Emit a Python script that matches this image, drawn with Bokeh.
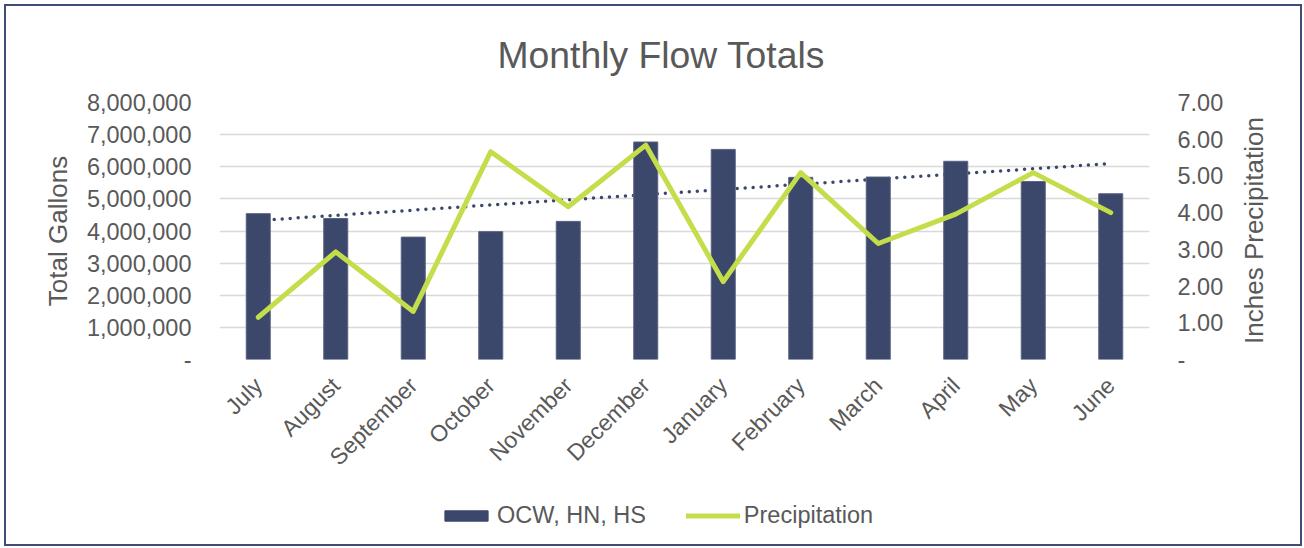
import numpy as np
from math import pi
from bokeh.plotting import figure
from bokeh.layouts import column, row
from bokeh.core.properties import value
from bokeh.models import (ColumnDataSource, FactorRange, Range1d, LinearAxis,
                          FixedTicker, CustomJSTickFormatter, Legend, LegendItem)
from bokeh.embed import file_html
from bokeh.resources import INLINE

# ---- data ----
months = ["July", "August", "September", "October", "November", "December",
          "January", "February", "March", "April", "May", "June"]
flow_gallons = [4540000, 4390000, 3810000, 3980000, 4300000, 6770000,
                6540000, 5670000, 5680000, 6170000, 5540000, 5160000]
precip_inches = [1.15, 2.93, 1.31, 5.66, 4.16, 5.84,
                 2.12, 5.09, 3.16, 3.96, 5.09, 4.00]
left_ticks = [0, 1000000, 2000000, 3000000, 4000000, 5000000, 6000000, 7000000, 8000000]
right_ticks = [0, 1, 2, 3, 4, 5, 6, 7]
series_names = ["OCW, HN, HS", "Precipitation"]
left_title = "Total Gallons"
right_title = "Inches Precipitation"

# linear trendline of flow totals
xi = np.arange(len(months))
slope, intercept = np.polyfit(xi, flow_gallons, 1)
trend = list(intercept + slope * xi)

src = ColumnDataSource(dict(month=months, flow=flow_gallons, precip=precip_inches, trend=trend))

FONT = "Liberation Sans"
GREY = "#595959"
NAVY = "#3B476B"
LIME = "#C4DD4B"
W_MAIN = 1229
W_RIGHT = 65
H_MAIN = 478
H_LEG = 60

p = figure(width=W_MAIN, height=H_MAIN, x_range=FactorRange(*months, range_padding=0),
           y_range=Range1d(0, 8000000), output_backend="svg", toolbar_location=None,
           min_border_left=213, min_border_right=86, min_border_top=96, min_border_bottom=125)
p.extra_y_ranges = {"precip": Range1d(0, 7)}
p.x_range.range_padding = 0

p.title.text = "Monthly Flow Totals"
p.title.text_font = FONT
p.title.text_font_size = "37.3px"
p.title.text_font_style = "normal"
p.title.text_color = GREY
p.title.align = "left"
p.title.offset = 278
p.title.vertical_align = "top"
p.title.standoff = 49

p.outline_line_color = None

# trend (behind bars)
p.line("month", "trend", source=src, line_color=NAVY, line_width=3.5,
       line_dash="0 8", line_cap="round")
bars = p.vbar(x="month", top="flow", source=src, width=0.31, fill_color=NAVY,
              line_color="#5A6482", line_width=1)
ln = p.line("month", "precip", source=src, y_range_name="precip", line_color=LIME,
            line_width=5, line_join="round", line_cap="round")

# axes styling
def style_axis(ax, size="23.5px"):
    ax.axis_line_color = None
    ax.major_tick_line_color = None
    ax.minor_tick_line_color = None
    ax.major_label_text_font = FONT
    ax.major_label_text_font_size = size
    ax.major_label_text_color = GREY
    ax.axis_label_text_font = FONT
    ax.axis_label_text_font_size = "26px"
    ax.axis_label_text_font_style = "normal"
    ax.axis_label_text_color = GREY

xa = p.xaxis[0]
style_axis(xa, "23px")
xa.major_label_orientation = pi / 4
xa.major_label_standoff = 22
xa.major_tick_out = 0
xa.major_tick_in = 0

ya = p.yaxis[0]
style_axis(ya)
ya.ticker = FixedTicker(ticks=left_ticks)
ya.formatter = CustomJSTickFormatter(code="return tick == 0 ? '-' : tick.toLocaleString('en-US');")
ya.major_label_standoff = 28
ya.major_tick_out = 0
ya.axis_label = left_title
ya.axis_label_standoff = 11

# right axis: tick labels
ra = LinearAxis(y_range_name="precip")
style_axis(ra)
ra.ticker = FixedTicker(ticks=right_ticks)
ra.formatter = CustomJSTickFormatter(code="return tick == 0 ? '-' : tick.toFixed(2);")
ra.major_label_standoff = 28
ra.major_tick_out = 0
p.add_layout(ra, "right")

p.xgrid.grid_line_color = None
p.ygrid.grid_line_color = "#D9D9D9"
p.ygrid.grid_line_width = 1.5
p.ygrid.ticker = FixedTicker(ticks=left_ticks)

# ---- legend strip (separate small figure, same series styles) ----
lf = figure(width=W_MAIN, height=H_LEG, x_range=Range1d(0, 1), y_range=Range1d(0, 1),
            output_backend="svg", toolbar_location=None,
            x_axis_location=None, y_axis_location=None,
            min_border_left=0, min_border_right=0, min_border_top=0, min_border_bottom=0)
lf.outline_line_color = None
lf.xgrid.visible = False
lf.ygrid.visible = False
lbar = lf.vbar(x=[-10], top=[-10], width=0.1, fill_color=NAVY, line_color=NAVY, line_width=1)
lline = lf.line(x=[-10, -9], y=[-10, -10], line_color=LIME, line_width=5, line_cap="round")
legend = Legend(items=[LegendItem(label=series_names[0], renderers=[lbar]),
                       LegendItem(label=series_names[1], renderers=[lline])],
                orientation="horizontal", location=(220, 15),
                border_line_alpha=0, background_fill_alpha=0, padding=0, margin=0,
                spacing=40, glyph_width=54, glyph_height=13, label_standoff=4,
                label_text_font=FONT, label_text_font_size="23.5px", label_text_color=GREY)
lf.add_layout(legend)

# ---- right-hand axis title strip (reads bottom-to-top) ----
H_ALL = H_MAIN + H_LEG
rf = figure(width=W_RIGHT, height=H_ALL, x_range=Range1d(0, W_RIGHT), y_range=Range1d(0, H_ALL),
            output_backend="svg", toolbar_location=None,
            x_axis_location=None, y_axis_location=None,
            min_border_left=0, min_border_right=0, min_border_top=0, min_border_bottom=0)
rf.outline_line_color = None
rf.xgrid.visible = False
rf.ygrid.visible = False
rf.text(x=[18], y=[314], text=[right_title], angle=pi / 2, text_align="center",
        text_baseline="middle", text_font=value(FONT), text_font_size="26px", text_color=GREY)

lay = row(column(p, lf, spacing=0), rf, spacing=0,
          styles={"border": "2px solid #3F4C78", "margin": "4px 0px 0px 4px"})

open("out.html", "w").write(file_html(lay, INLINE))
